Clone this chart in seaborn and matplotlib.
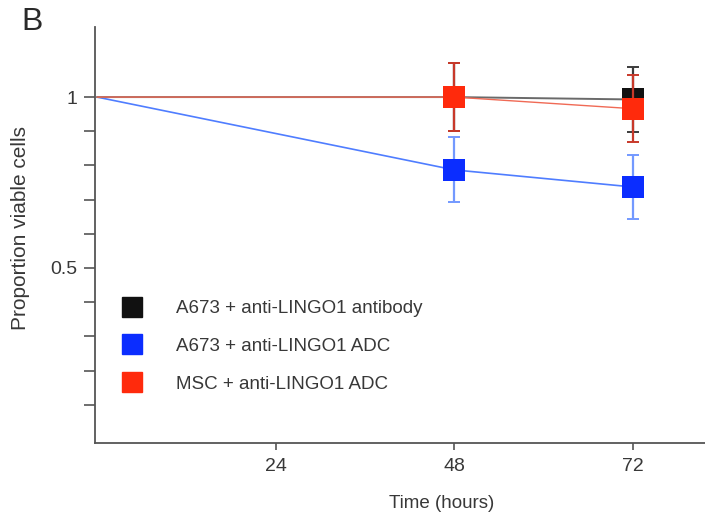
import numpy as np
import pandas as pd
import matplotlib
matplotlib.use("Agg")
import matplotlib.pyplot as plt
from matplotlib.lines import Line2D
import seaborn as sns

# ---- data ----
time_h = [0, 48, 72]
series_names = ["A673 + anti-LINGO1 antibody", "A673 + anti-LINGO1 ADC", "MSC + anti-LINGO1 ADC"]
black_mean = [1.0, 1.0, 0.993]
black_err = [0.0, 0.10, 0.095]
blue_mean = [1.0, 0.787, 0.737]
blue_err = [0.0, 0.095, 0.095]
red_mean = [1.0, 1.0, 0.966]
red_err = [0.0, 0.10, 0.098]
x_ticks = [24, 48, 72]
y_ticks = [0.1, 0.2, 0.3, 0.4, 0.5, 0.6, 0.7, 0.8, 0.9, 1.0]
y_ticklabels = ["", "", "", "", "0.5", "", "", "", "", "1"]

sns.set_style("ticks")
plt.rcParams["font.family"] = ["Liberation Sans", "DejaVu Sans"]
txt = "#383838"

fig = plt.figure(figsize=(7.05, 5.17), dpi=100)
ax = fig.add_axes([95 / 705, 1 - 443 / 517, 1 - 95 / 705, (443 - 27) / 517])

means = {"black": black_mean, "blue": blue_mean, "red": red_mean}
errs = {"black": black_err, "blue": blue_err, "red": red_err}
rows = []
for key, name in zip(["black", "blue", "red"], series_names):
    for t, m, e in zip(time_h, means[key], errs[key]):
        rows.append({"time": t, "value": m, "err": e, "series": name, "key": key})
df = pd.DataFrame(rows)

line_col = {"black": "#6a6a6a", "blue": "#4f7dff", "red": "#f06a55"}
line_w = {"black": 1.4, "blue": 1.2, "red": 1.0}
err_col = {"black": "#3c3c3c", "blue": "#7399ff", "red": "#c8392a"}
mark_col = {"black": "#111111", "blue": "#0b2dff", "red": "#ff2a0c"}

order = ["blue", "black", "red"]
for i, key in enumerate(order):
    sub = df[df["key"] == key]
    sns.lineplot(data=sub, x="time", y="value", color=line_col[key], lw=line_w[key],
                 ax=ax, zorder=2 + i, legend=False)
for i, key in enumerate(order):
    sub = df[(df["key"] == key) & (df["time"] > 0)]
    ax.errorbar(sub["time"], sub["value"], yerr=sub["err"], fmt="none",
                ecolor=err_col[key], elinewidth=1.6, capsize=4, capthick=1.4,
                zorder=6 + 2 * i)
    sns.scatterplot(data=sub, x="time", y="value", color=mark_col[key], marker="s",
                    s=250, edgecolor=mark_col[key], linewidth=0, ax=ax,
                    zorder=7 + 2 * i, legend=False)

ax.set_xlim(-0.27, 81.7)
ax.set_ylim(-0.012, 1.205)
ax.set_xticks(x_ticks)
ax.set_xticklabels([str(v) for v in x_ticks])
ax.set_yticks(y_ticks)
ax.set_yticklabels(y_ticklabels)
sns.despine(ax=ax, top=True, right=True)
for s in ["left", "bottom"]:
    ax.spines[s].set_color("#555555")
    ax.spines[s].set_linewidth(1.3)
ax.tick_params(axis="y", length=8, width=1.2, color="#555555", pad=5,
               labelsize=14, labelcolor=txt)
ax.tick_params(axis="x", length=5, width=1.2, color="#555555", pad=6,
               labelsize=14, labelcolor=txt)
ax.set_xlabel("Time (hours)", fontsize=13.5, color=txt)
ax.set_ylabel("Proportion viable cells", fontsize=15, color=txt)
ax.xaxis.set_label_coords((442 - 95) / 610, -52 / 416)
ax.yaxis.set_label_coords(-(95 - 30) / 610, (443 - 228) / 416)

handles = [Line2D([], [], ls="none", marker="s", markersize=14,
                  markerfacecolor=mark_col[k], markeredgecolor=mark_col[k])
           for k in ["black", "blue", "red"]]
leg = ax.legend(handles, series_names, loc="upper left", frameon=False,
                bbox_to_anchor=(123 / 705, 1 - 300 / 517), bbox_transform=fig.transFigure,
                borderpad=0, borderaxespad=0, handlelength=1.0, handletextpad=1.85,
                labelspacing=1.1, fontsize=13.5)
for t in leg.get_texts():
    t.set_color(txt)

fig.text(21 / 705, 1 - 22 / 517, "B", fontsize=23, color="#2a2a2a", va="center", ha="left")

fig.savefig("out.png", dpi=100)
